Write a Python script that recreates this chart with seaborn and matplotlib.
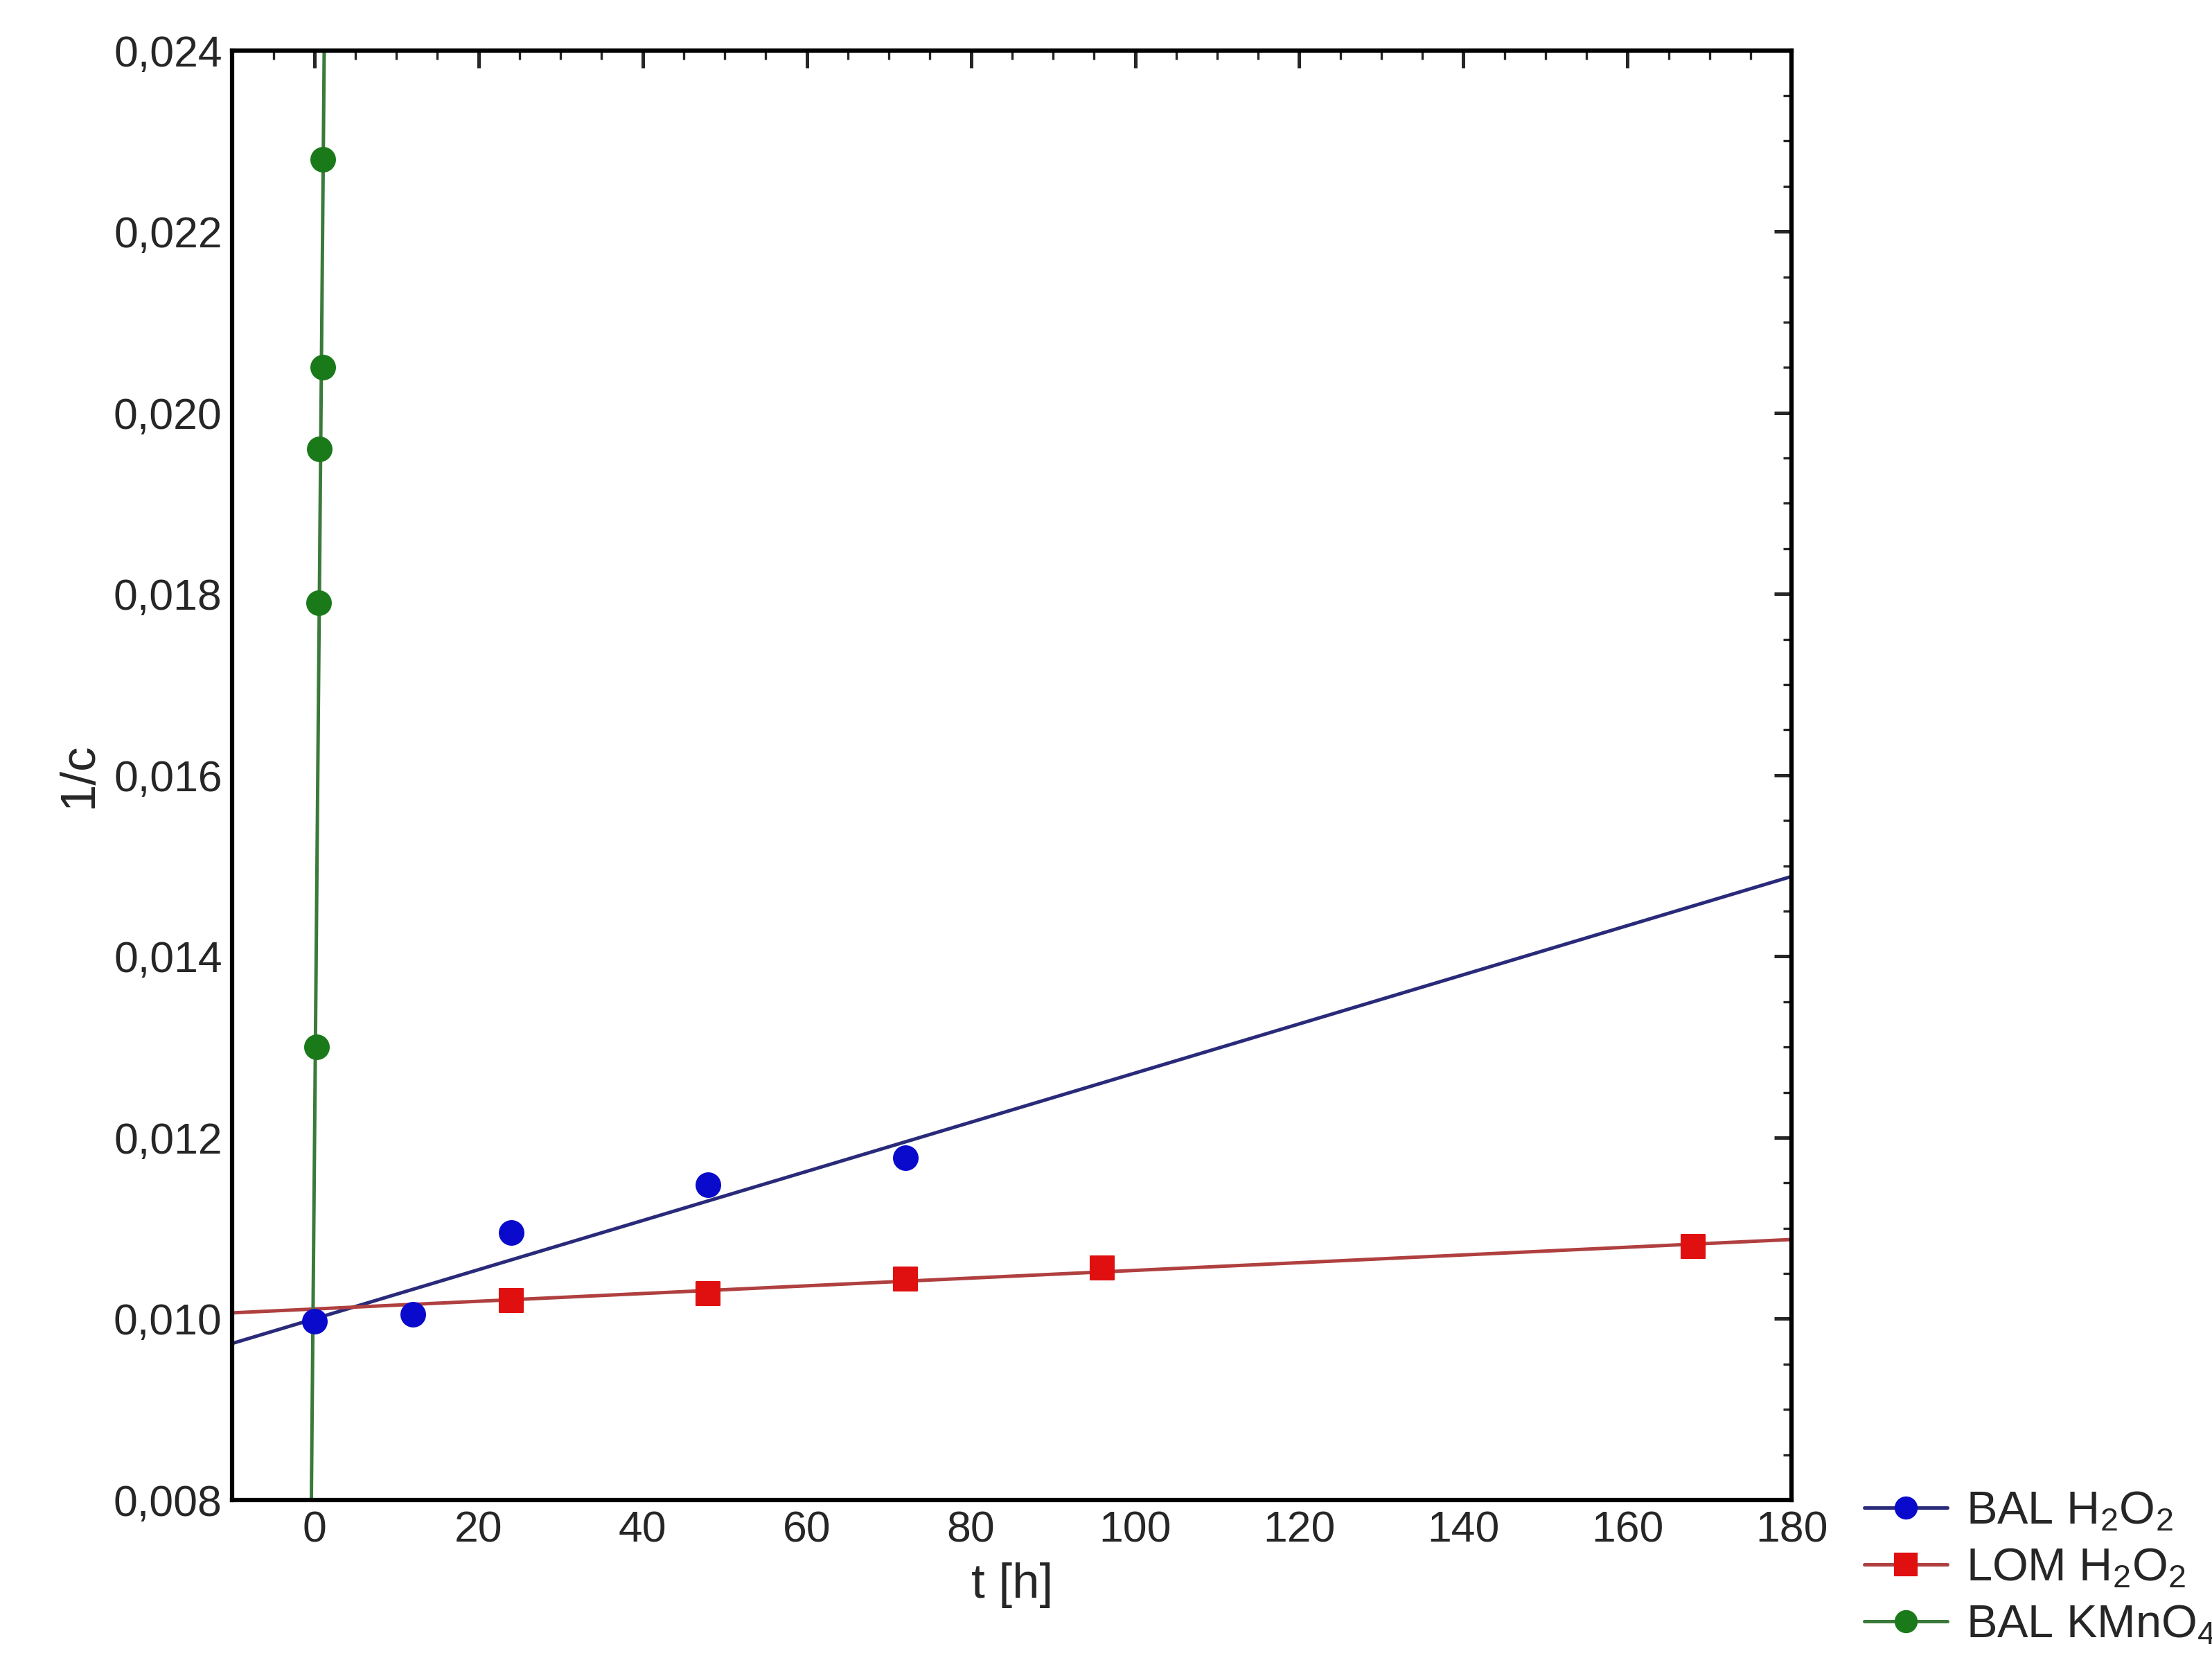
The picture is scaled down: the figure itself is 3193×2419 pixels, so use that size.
import numpy as np
import matplotlib.pyplot as plt
import seaborn as sns
from matplotlib.lines import Line2D
from matplotlib.ticker import MultipleLocator

sns.set_style("white")
plt.rcParams['font.family'] = ['Liberation Sans', 'DejaVu Sans']
plt.rcParams['mathtext.fontset'] = 'custom'
plt.rcParams['mathtext.rm'] = 'Liberation Sans'
plt.rcParams['mathtext.it'] = 'Liberation Sans'

# data
bal_h2o2_t = [0, 12, 24, 48, 72]
bal_h2o2_y = [0.00997, 0.01005, 0.01095, 0.01148, 0.01178]
lom_h2o2_t = [24, 48, 72, 96, 168]
lom_h2o2_y = [0.01020, 0.01028, 0.01044, 0.01056, 0.01080]
bal_kmno4_t = [0.25, 0.55, 0.6, 1.0, 1.05]
bal_kmno4_y = [0.0130, 0.0179, 0.0196, 0.0205, 0.0228]

series = [
    ("BAL H$_2$O$_2$", bal_h2o2_t, bal_h2o2_y, "#0a0acc", "#2a2a7a", "o"),
    ("LOM H$_2$O$_2$", lom_h2o2_t, lom_h2o2_y, "#e01010", "#b04040", "s"),
    ("BAL KMnO$_4$", bal_kmno4_t, bal_kmno4_y, "#1a7a1a", "#3a7a3a", "o"),
]

fig = plt.figure(figsize=(3193 / 300, 2419 / 300), dpi=300)
ax = fig.add_axes([0.105, 0.105, 0.705, 0.865])

xline = np.linspace(-10, 180, 500)
handles = []
for label, t, y, mc, lc, mk in series:
    k, b = np.polyfit(t, y, 1)
    sns.lineplot(x=xline, y=k * xline + b, ax=ax, color=lc, linewidth=1.2)
    sns.scatterplot(x=t, y=y, ax=ax, color=mc, marker=mk, s=70,
                    edgecolor=mc, linewidth=0.5, zorder=5)
    handles.append(Line2D([], [], color=lc, marker=mk, markerfacecolor=mc,
                          markeredgecolor=mc, markersize=7, linewidth=1.2))

ax.set_xlim(-10, 180)
ax.set_ylim(0.008, 0.024)
ax.set_xticks(np.arange(0, 181, 20))
ax.set_yticks(np.arange(0.008, 0.0241, 0.002))
ax.set_yticklabels([f"{v:.3f}".replace(".", ",") for v in np.arange(0.008, 0.0241, 0.002)])
ax.xaxis.set_minor_locator(MultipleLocator(5))
ax.yaxis.set_minor_locator(MultipleLocator(0.0005))
ax.tick_params(which='both', direction='in', top=True, right=True, labelsize=15)
ax.tick_params(which='major', length=6, width=1.2)
ax.tick_params(which='minor', length=3, width=0.8)
for s in ax.spines.values():
    s.set_color('black')
    s.set_linewidth(1.5)
ax.set_xlabel("t [h]", fontsize=17)
ax.set_ylabel("1/c", fontsize=17)

ax.legend(handles, [s[0] for s in series], loc='lower left',
          bbox_to_anchor=(1.02, -0.13), frameon=False, fontsize=16,
          handlelength=1.8, handletextpad=0.4, labelspacing=0.3)

fig.savefig("out.png", dpi=300)
